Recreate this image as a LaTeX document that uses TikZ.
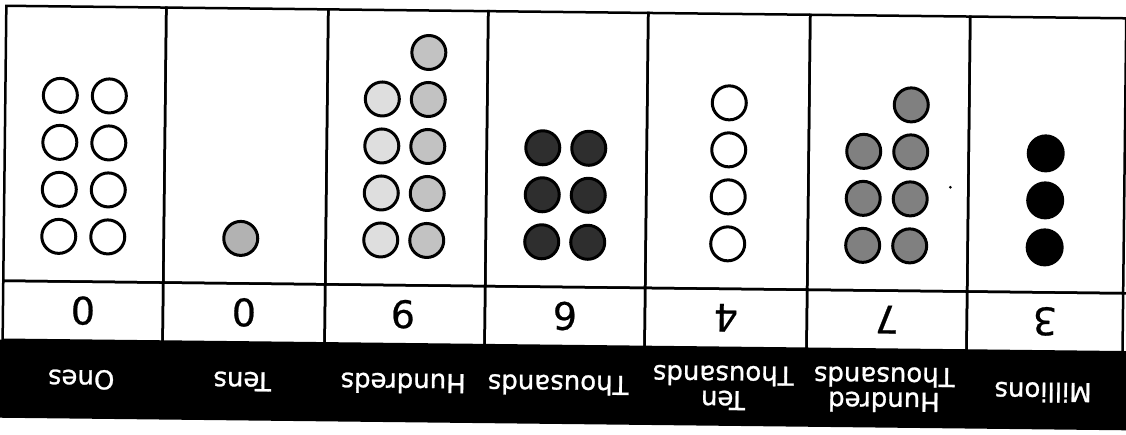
\documentclass[tikz,border=0pt]{standalone}
\usepackage{fontspec}
\newfontfamily\labfont[FakeBold=1]{DejaVu Sans}
\newfontfamily\digfont[FakeBold=0.6]{DejaVu Sans}
\begin{document}
\begin{tikzpicture}[x=1pt,y=-1pt,
  frame/.style={line width=2.5pt,draw=black},
  bead/.style={circle,draw=black,line width=3pt,minimum size=34pt,inner sep=0pt},
  white bead/.style={bead,fill=white},
  tens bead/.style={bead,fill=black!30},
  hl bead/.style={bead,fill=black!13},
  hr bead/.style={bead,fill=black!24},
  th bead/.style={bead,fill=black!82},
  ht bead/.style={bead,fill=black!50},
  mil bead/.style={circle,fill=black,minimum size=38pt,inner sep=0pt},
  digit/.style={font=\digfont\fontsize{38}{40}\selectfont,rotate=179.36,inner sep=0pt},
  label/.style={font=\labfont\fontsize{26}{25}\selectfont,text=white,align=center,rotate=179.36,inner sep=0pt}]
\useasboundingbox (0,0) rectangle (1126,434);
\fill[white] (0,0) rectangle (1126,434);
\begin{scope}[rotate around={-0.64:(563,217)}]
\fill[black] (1,346) rectangle (1140,424);
\foreach \a/\b [count=\i] in {4/164,164/326,326/486,486/646,646/808,808/968,968/1124}{
  \draw[frame] (\a,12) rectangle (\b,287);
  \draw[frame] (\a,287) rectangle (\b,346);
}
\draw[frame] (1124,12) -- (1140,12) (1124,287) -- (1140,287) (1124,346) -- (1140,346);
% digits
\node[digit] (d1) at (84,316) {0};
\node[digit] (d2) at (245,316) {0};
\node[digit] (d3) at (404,316) {9};
\node[digit] (d4) at (566,316) {6};
\node[digit] (d5) at (727,316) {4};
\node[digit] (d6) at (888,316) {7};
\node[digit] (d7) at (1046,316) {3};
% labels
\node[label] (l1) at (83,385) {Ones};
\node[label] (l2) at (244,385) {Tens};
\node[label] (l3) at (405,385) {Hundreds};
\node[label] (l4) at (560,385) {Thousands};
\node[label] (l5) at (725,386) {Ten\\Thousands};
\node[label] (l6) at (886,386) {Hundred\\Thousands};
\node[label] (l7) at (1045,387) {Millions};
% ones
\foreach \y [count=\k] in {101,148,195,242}{
  \node[white bead] (oa\k) at (59,\y) {};
  \node[white bead] (ob\k) at (108,\y) {};
}
% tens
\node[tens bead] (t1) at (241,242) {};
% hundreds
\foreach \y [count=\k] in {101,148,195,242}{
  \node[hl bead] (ha\k) at (381,\y) {};
}
\foreach \y [count=\k] in {54,101,148,195,242}{
  \node[hr bead] (hb\k) at (427,\y) {};
}
% thousands
\foreach \y [count=\k] in {148,195,242}{
  \node[th bead] (tha\k) at (542,\y) {};
  \node[th bead] (thb\k) at (588,\y) {};
}
% ten thousands
\foreach \y [count=\k] in {101,148,195,242}{
  \node[white bead] (tt\k) at (728,\y) {};
}
% hundred thousands
\foreach \y [count=\k] in {148,195,242}{
  \node[ht bead] (hta\k) at (863,\y) {};
}
\foreach \y [count=\k] in {101,148,195,242}{
  \node[ht bead] (htb\k) at (910,\y) {};
}
% millions
\foreach \y [count=\k] in {148,195,242}{
  \node[mil bead] (m\k) at (1045,\y) {};
}
\fill[black] (950,183) circle (1.5);
\end{scope}
\end{tikzpicture}
\end{document}
